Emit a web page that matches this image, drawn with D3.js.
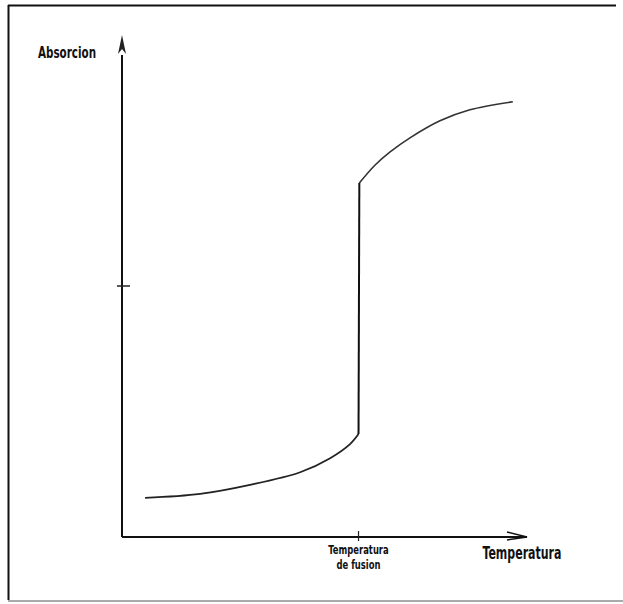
<!DOCTYPE html>
<html>
<head>
<meta charset="utf-8">
<script src="https://cdn.jsdelivr.net/npm/d3@7"></script>
<style>
  html, body { margin: 0; background: #fff; overflow: hidden; }
  svg { display: block; }
  text { font-family: "DejaVu Sans Condensed", "Liberation Sans Narrow", sans-serif; fill: #111; }
</style>
</head>
<body>
<script>
var w = 623;
var h = 604;

// data (arbitrary units)
var meltT = 5.84;
var yTick = 5.0;
var lowX = [0.57, 1.93, 3.16, 4.40, 5.14, 5.63, 5.84];
var lowY = [0.78, 0.86, 1.04, 1.29, 1.57, 1.85, 2.05];
var highX = [5.86, 6.25, 6.62, 7.11, 7.85, 8.59, 9.65];
var highY = [7.05, 7.41, 7.67, 7.95, 8.29, 8.51, 8.67];
var yLabel = "Absorcion";
var xLabel = "Temperatura";
var tickLabel = ["Temperatura", "de fusion"];

var lower = lowX.map(function (d, i) { return [d, lowY[i]]; });
var upper = highX.map(function (d, i) { return [d, highY[i]]; });

// Create scales
var xScale = d3.scaleLinear().domain([0, 10]).range([122, 527]);
var yScale = d3.scaleLinear().domain([0, 10]).range([537, 35]);

var svg = d3.select("body").append("svg").attr("width", w).attr("height", h);

// frame
svg.append("line").attr("x1", 8.5).attr("y1", 5).attr("x2", 8.5).attr("y2", 600)
  .attr("stroke", "#111").attr("stroke-width", 2);
svg.append("line").attr("x1", 8).attr("y1", 5.5).attr("x2", 616).attr("y2", 5.5)
  .attr("stroke", "#111").attr("stroke-width", 2);
svg.append("line").attr("x1", 8).attr("y1", 601).attr("x2", 623).attr("y2", 601)
  .attr("stroke", "#aaa").attr("stroke-width", 2);

// axes
var x0 = xScale(0), y0 = yScale(0);
svg.append("line").attr("x1", x0).attr("y1", y0).attr("x2", x0).attr("y2", yScale(9.6))
  .attr("stroke", "#111").attr("stroke-width", 2);
svg.append("line").attr("x1", x0).attr("y1", y0).attr("x2", xScale(10)).attr("y2", y0)
  .attr("stroke", "#111").attr("stroke-width", 2);

// y arrowhead (filled, narrow)
var yt = yScale(10);
svg.append("path")
  .attr("d", `M${x0},${yt} L${x0 - 4},${yt + 19} L${x0},${yt + 14} L${x0 + 4},${yt + 19} Z`)
  .attr("fill", "#222");

// x arrowhead (open)
var xt = xScale(10);
svg.append("path")
  .attr("d", `M${xt - 20},${y0 - 5} L${xt},${y0} L${xt - 20},${y0 + 3}`)
  .attr("fill", "none").attr("stroke", "#111").attr("stroke-width", 1.5);

// ticks
svg.append("line").attr("x1", x0 - 5).attr("x2", x0 + 8)
  .attr("y1", yScale(yTick)).attr("y2", yScale(yTick))
  .attr("stroke", "#222").attr("stroke-width", 1.5);
svg.append("line").attr("x1", xScale(meltT)).attr("x2", xScale(meltT))
  .attr("y1", y0 - 6).attr("y2", y0 + 4)
  .attr("stroke", "#222").attr("stroke-width", 1.2);

// curve
var line = d3.line()
  .x(function (d) { return xScale(d[0]); })
  .y(function (d) { return yScale(d[1]); })
  .curve(d3.curveCatmullRom);

svg.append("path").datum(lower).attr("d", line)
  .attr("fill", "none").attr("stroke", "#222").attr("stroke-width", 1.8);
svg.append("path").datum(upper).attr("d", line)
  .attr("fill", "none").attr("stroke", "#333").attr("stroke-width", 1.6);
svg.append("path").datum([lower[lower.length - 1], upper[0]])
  .attr("d", d3.line().x(function (d) { return xScale(d[0]); }).y(function (d) { return yScale(d[1]); }))
  .attr("fill", "none").attr("stroke", "#111").attr("stroke-width", 2);

// labels (narrow lettering)
function label(x, y, size, txt, anchor) {
  svg.append("text")
    .attr("transform", `translate(${x},${y}) scale(0.72,1)`)
    .attr("text-anchor", anchor)
    .attr("font-size", size)
    .attr("font-weight", "bold")
    .text(txt);
}
label(38, 58, 16, yLabel, "start");
label(522, 559, 17, xLabel, "middle");
tickLabel.forEach(function (d, i) {
  label(xScale(meltT), 554 + i * 15, 13, d, "middle");
});
</script>
</body>
</html>
